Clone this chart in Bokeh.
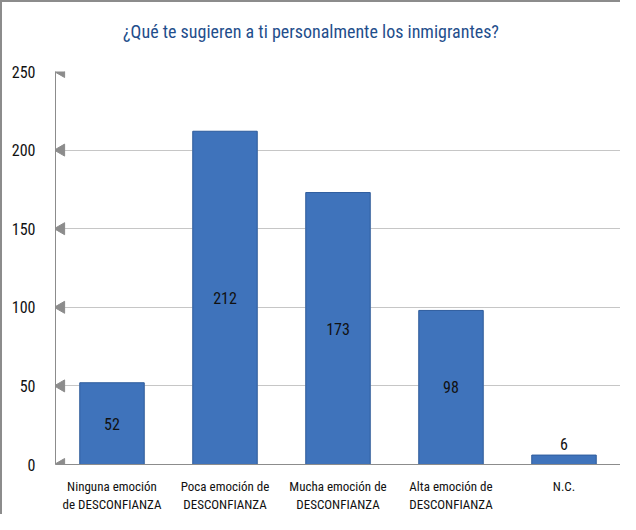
import math
from bokeh.plotting import figure
from bokeh.layouts import column
from bokeh.models import Range1d, FixedTicker, ColumnDataSource, Div
from bokeh.core.properties import value
from bokeh.embed import file_html
from bokeh.resources import INLINE

title = "¿Qué te sugieren a ti personalmente los inmigrantes?"
categories = [
    "Ninguna emoción\nde DESCONFIANZA",
    "Poca emoción de\nDESCONFIANZA",
    "Mucha emoción de\nDESCONFIANZA",
    "Alta emoción de\nDESCONFIANZA",
    "N.C.",
]
counts = [52, 212, 173, 98, 6]
y_ticks = [0, 50, 100, 150, 200, 250]

FONT = "Liberation Sans Narrow, Roboto Condensed, Open Sans, sans-serif"
GRAY = "#8c8c8c"

xs = [i + 0.5 for i in range(len(categories))]

head = Div(width=618, height=56, margin=0,
           text=('<div style="width:584px; padding-left:34px; margin-top:19px; '
                 'line-height:22px; text-align:center; font-family:%s; '
                 'font-size:18px; color:#1F4E8C;">%s</div>') % (FONT, title))

p = figure(width=618, height=456, output_backend="svg", toolbar_location=None,
           x_range=Range1d(0, len(categories)), y_range=Range1d(0, 250),
           min_border_left=53, min_border_right=0, min_border_top=13, min_border_bottom=50)

p.outline_line_color = None
p.background_fill_color = "white"

# grid
p.xgrid.grid_line_color = None
p.ygrid.ticker = FixedTicker(ticks=y_ticks)
p.ygrid.grid_line_color = GRAY
p.ygrid.grid_line_dash = "1 1"
p.ygrid.grid_line_width = 1

# y axis
p.yaxis.ticker = FixedTicker(ticks=y_ticks)
p.yaxis.axis_line_color = GRAY
p.yaxis.major_tick_line_color = None
p.yaxis.minor_tick_line_color = None
p.yaxis.major_label_text_font = FONT
p.yaxis.major_label_text_font_size = "16px"
p.yaxis.major_label_text_color = "#111111"
p.yaxis.major_label_standoff = 14

# x axis
p.xaxis.ticker = FixedTicker(ticks=xs)
p.xaxis.major_label_overrides = {x: c for x, c in zip(xs, categories)}
p.xaxis.axis_line_color = GRAY
p.xaxis.major_tick_line_color = None
p.xaxis.minor_tick_line_color = None
p.xaxis.major_label_text_font = FONT
p.xaxis.major_label_text_font_size = "13px"
p.xaxis.major_label_text_color = "#111111"
p.xaxis.major_label_standoff = 8

src = ColumnDataSource(dict(x=xs, top=counts,
                            mid=[c / 2 if c > 20 else c for c in counts],
                            lab=[str(c) for c in counts],
                            yoff=[0 if c > 20 else -11 for c in counts]))

# bar shadow
p.vbar(x="x", top="top", width=0.585, source=src, fill_color="#c8c8c8", line_color=None,
       fill_alpha=0.6)
p.vbar(x="x", top="top", width=0.57, source=src, fill_color="#3F73BB",
       line_color="#2E5C9E", line_width=1)

# tick triangles
p.scatter(x=[0.05] * len(y_ticks), y=y_ticks, marker="triangle", angle=math.pi / 2,
          size=12, fill_color=GRAY, line_color=GRAY)

p.text(x="x", y="mid", text="lab", source=src, y_offset="yoff",
       text_align="center", text_baseline="middle",
       text_font=value(FONT), text_font_size="16px", text_color="#111111")

layout = column(head, p, spacing=0,
                styles={"border-left": "2px solid #8c8c8c", "border-top": "2px solid #8c8c8c"})

open("out.html", "w").write(file_html(layout, INLINE))
